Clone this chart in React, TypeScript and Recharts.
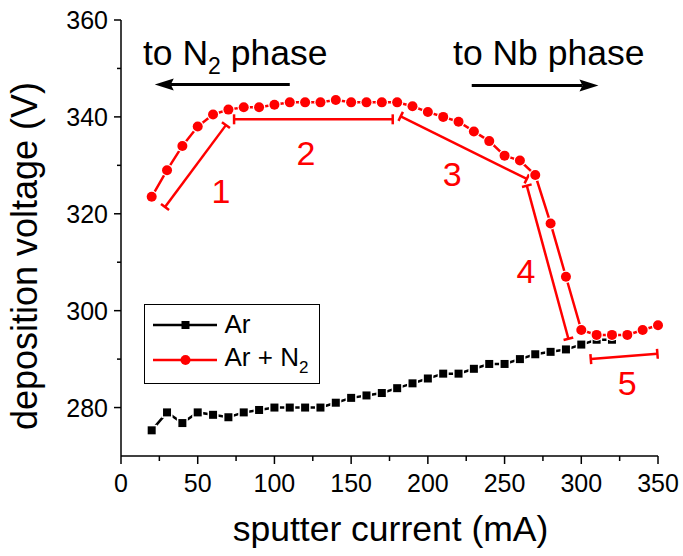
import React from "react";
import { Legend, Line, LineChart, ReferenceDot, ReferenceLine, XAxis, YAxis } from "recharts";

const FONT = "'Liberation Sans', Arial, sans-serif";
const RED = "#ff0000";

// sputter current (mA) and deposition voltage (V)
const arCurrent = [20, 30, 40, 50, 60, 70, 80, 90, 100, 110, 120, 130, 140, 150, 160, 170, 180, 190, 200, 210, 220, 230, 240, 250, 260, 270, 280, 290, 300, 310, 320];
const arVoltage = [275.3, 279, 276.8, 279, 278.5, 278, 279, 279.5, 280, 280, 280, 280, 281, 282, 282.5, 283, 284, 285, 286, 287, 287, 288, 289, 289, 290, 291, 291.5, 292, 293, 294, 294];

const arN2Current = [20, 30, 40, 50, 60, 70, 80, 90, 100, 110, 120, 130, 140, 150, 160, 170, 180, 190, 200, 210, 220, 230, 240, 250, 260, 270, 280, 290, 300, 310, 320, 330, 340, 350];
const arN2Voltage = [323.5, 329, 334, 338, 340.5, 341.5, 342, 342, 342.5, 343, 343, 343, 343.5, 343, 343, 343, 343, 342.2, 341, 340, 339, 337, 335, 332, 331, 328, 318, 307, 296, 295, 295, 295, 296, 297];

const xTicks = [0, 25, 50, 75, 100, 125, 150, 175, 200, 225, 250, 275, 300, 325, 350];
const yTicks = [280, 290, 300, 310, 320, 330, 340, 350, 360];

// regime brackets (data units)
const regionNames = ["1", "2", "3", "4", "5"];
const regionStart = [[28.7, 321.4], [73.7, 339.5], [182.3, 340.1], [264.5, 325.8], [306.2, 290.0]];
const regionEnd = [[68.4, 338.3], [177.1, 339.5], [264.5, 327.2], [291.6, 294.2], [349.6, 291.1]];
const regionLabelAt = [[65.2, 324.7], [120.6, 332.6], [215.8, 328.2], [264, 308.2], [329.9, 285]];

// direction arrows
const arrowFrom = [[110, 346.7], [228.6, 346.5]];
const arrowTo = [[22, 346.7], [311.2, 346.5]];
const phaseTextAt = [[14.3, 350.7], [216.4, 350.7]];

const arRows = arCurrent.map((c, i) => ({ current: c, voltage: arVoltage[i] }));
const arN2Rows = arN2Current.map((c, i) => ({ current: c, voltage: arN2Voltage[i] }));

const squareDot = (p: any) => {
  const { cx, cy, index } = p;
  if (cx == null || cy == null) return <g key={`s${index}`} />;
  return (
    <g key={`s${index}`}>
      <rect x={cx - 5.5} y={cy - 5.5} width={11} height={11} fill="#fff" />
      <rect x={cx - 4} y={cy - 4} width={8} height={8} fill="#000" />
    </g>
  );
};

const circleDot = (p: any) => {
  const { cx, cy, index } = p;
  if (cx == null || cy == null) return <g key={`c${index}`} />;
  return (
    <g key={`c${index}`}>
      <circle cx={cx} cy={cy} r={6.2} fill="#fff" />
      <circle cx={cx} cy={cy} r={5} fill={RED} />
    </g>
  );
};

function BottomTick({ x, y, payload }: any) {
  const v = payload.value;
  const major = v % 50 === 0;
  return (
    <g>
      <line x1={x} x2={x} y1={y} y2={y + (major ? 8 : 5)} stroke="#000" strokeWidth={1.5} />
      {major && (
        <text x={x} y={y + 36} textAnchor="middle" fontSize={25} fontFamily={FONT} fill="#000">
          {v}
        </text>
      )}
    </g>
  );
}

function LeftTick({ x, y, payload }: any) {
  const v = payload.value;
  const major = v % 20 === 0;
  return (
    <g>
      <line x1={x} x2={x - (major ? 7 : 4)} y1={y} y2={y} stroke="#000" strokeWidth={1.5} />
      {major && (
        <text x={x - 13} y={y + 9} textAnchor="end" fontSize={25} fontFamily={FONT} fill="#000">
          {v}
        </text>
      )}
    </g>
  );
}

function TopTick({ x, y, payload }: any) {
  const major = payload.value % 50 === 0;
  return <line x1={x} x2={x} y1={y} y2={y + (major ? 7 : 4)} stroke="#000" strokeWidth={1.5} />;
}

function RightTick({ x, y, payload }: any) {
  const major = payload.value % 20 === 0;
  return <line x1={x} x2={x - (major ? 7 : 4)} y1={y} y2={y} stroke="#000" strokeWidth={1.5} />;
}

function Bracket(p: any) {
  const { x1, y1, x2, y2 } = p;
  const len = Math.hypot(x2 - x1, y2 - y1) || 1;
  const nx = (-(y2 - y1) / len) * 5;
  const ny = ((x2 - x1) / len) * 5;
  return (
    <g stroke={RED} strokeWidth={2.5} fill="none">
      <line x1={x1} y1={y1} x2={x2} y2={y2} />
      <line x1={x1 - nx} y1={y1 - ny} x2={x1 + nx} y2={y1 + ny} />
      <line x1={x2 - nx} y1={y2 - ny} x2={x2 + nx} y2={y2 + ny} />
    </g>
  );
}

function Arrow(p: any) {
  const { x1, y1, x2, y2 } = p;
  const len = Math.hypot(x2 - x1, y2 - y1) || 1;
  const ux = (x2 - x1) / len;
  const uy = (y2 - y1) / len;
  const bx = x2 - ux * 16;
  const by = y2 - uy * 16;
  const half = 6;
  const nx = bx - ux * 3;
  const ny = by - uy * 3;
  return (
    <g>
      <line x1={x1} y1={y1} x2={bx} y2={by} stroke="#000" strokeWidth={3} />
      <polygon
        points={`${x2},${y2} ${nx - uy * half},${ny + ux * half} ${bx},${by} ${nx + uy * half},${ny - ux * half}`}
        fill="#000"
      />
    </g>
  );
}

function RegionLabel(text: string) {
  return (p: any) => (
    <text x={p.cx} y={p.cy} textAnchor="middle" dy={12} fontSize={34} fontFamily={FONT} fill={RED}>
      {text}
    </text>
  );
}

function PhaseText(i: number) {
  return (p: any) => (
    <text x={p.cx} y={p.cy} fontSize={35.5} fontFamily={FONT} fill="#000">
      {i === 0 ? (
        <>
          to N
          <tspan dy={9} fontSize={23}>2</tspan>
          <tspan dy={-9}> phase</tspan>
        </>
      ) : (
        "to Nb phase"
      )}
    </text>
  );
}

function LegendBox({ payload }: any) {
  return (
    <div
      style={{
        width: 176,
        height: 80,
        boxSizing: "border-box",
        border: "1.5px solid #000",
        background: "#fff",
        paddingTop: 2,
        fontFamily: FONT,
      }}
    >
      {(payload || []).map((entry: any) => {
        const isRed = entry.color === RED;
        return (
          <div key={entry.value} style={{ display: "flex", alignItems: "center", height: 35 }}>
            <svg width={64} height={20} style={{ marginLeft: 7.5, flex: "none" }}>
              <line x1={0} y1={10} x2={64} y2={10} stroke={entry.color} strokeWidth={2.5} />
              {isRed ? (
                <circle cx={32.5} cy={10} r={5} fill={RED} />
              ) : (
                <rect x={28.5} y={6} width={8} height={8} fill="#000" />
              )}
            </svg>
            <span style={{ fontSize: 26, marginLeft: 8, color: "#000", whiteSpace: "nowrap" }}>
              {isRed ? (
                <>
                  Ar + N<sub style={{ fontSize: 17, verticalAlign: "-7px" }}>2</sub>
                </>
              ) : (
                entry.value
              )}
            </span>
          </div>
        );
      })}
    </div>
  );
}

export default function App() {
  return (
    <div style={{ position: "absolute", left: 0, top: 0, width: 683, height: 556, background: "#fff" }}>
      <LineChart width={683} height={556} margin={{ top: 20, right: 25, left: 0, bottom: 0 }} style={{ fontFamily: FONT }}>
        <XAxis
          dataKey="current"
          type="number"
          domain={[0, 350]}
          ticks={xTicks}
          interval={0}
          height={100}
          tickSize={0}
          tickMargin={0}
          tickLine={false}
          axisLine={{ stroke: "#000", strokeWidth: 1.5 }}
          tick={<BottomTick />}
          label={{
            content: (props: any) => {
              const vb = props.viewBox || { x: 121, y: 456, width: 537 };
              return (
                <text x={vb.x + vb.width / 2 + 1} y={vb.y + 85} textAnchor="middle" fontSize={35.5} fontFamily={FONT} fill="#000">
                  sputter current (mA)
                </text>
              );
            },
          }}
        />
        <XAxis
          xAxisId="top"
          orientation="top"
          type="number"
          domain={[0, 350]}
          ticks={xTicks}
          interval={0}
          height={0}
          tickSize={0}
          tickMargin={0}
          tickLine={false}
          axisLine={{ stroke: "#000", strokeWidth: 1.5 }}
          tick={<TopTick />}
        />
        <YAxis
          type="number"
          domain={[270, 360]}
          ticks={yTicks}
          interval={0}
          width={121}
          tickSize={0}
          tickMargin={0}
          tickLine={false}
          axisLine={{ stroke: "#000", strokeWidth: 1.5 }}
          tick={<LeftTick />}
          label={{
            content: (props: any) => {
              const vb = props.viewBox || { x: 0, y: 20, height: 436 };
              const cx = vb.x + 37;
              const cy = vb.y + vb.height / 2 + 18;
              return (
                <text x={cx} y={cy} transform={`rotate(-90 ${cx} ${cy})`} textAnchor="middle" fontSize={36} fontFamily={FONT} fill="#000">
                  deposition voltage (V)
                </text>
              );
            },
          }}
        />
        <YAxis
          yAxisId="right"
          orientation="right"
          type="number"
          domain={[270, 360]}
          ticks={yTicks}
          interval={0}
          width={0}
          tickSize={0}
          tickMargin={0}
          tickLine={false}
          axisLine={{ stroke: "#000", strokeWidth: 1.5 }}
          tick={<RightTick />}
        />
        <Legend
          layout="vertical"
          align="center"
          verticalAlign="middle"
          wrapperStyle={{ left: 144, top: 304, width: 176, height: 80 }}
          content={<LegendBox />}
        />
        {regionNames.map((name, i) => (
          <ReferenceLine
            key={`br${name}`}
            segment={[
              { x: regionStart[i][0], y: regionStart[i][1] },
              { x: regionEnd[i][0], y: regionEnd[i][1] },
            ]}
            shape={Bracket}
          />
        ))}
        {regionNames.map((name, i) => (
          <ReferenceDot key={`lb${name}`} x={regionLabelAt[i][0]} y={regionLabelAt[i][1]} r={0} shape={RegionLabel(name)} />
        ))}
        {arrowFrom.map((from, i) => (
          <ReferenceLine
            key={`ar${i}`}
            segment={[
              { x: from[0], y: from[1] },
              { x: arrowTo[i][0], y: arrowTo[i][1] },
            ]}
            shape={Arrow}
          />
        ))}
        {phaseTextAt.map((pos, i) => (
          <ReferenceDot key={`ph${i}`} x={pos[0]} y={pos[1]} r={0} shape={PhaseText(i)} />
        ))}
        <Line
          data={arRows}
          dataKey="voltage"
          name="Ar"
          stroke="#000"
          strokeWidth={2.5}
          dot={squareDot}
          activeDot={false}
          isAnimationActive={false}
        />
        <Line
          data={arN2Rows}
          dataKey="voltage"
          name="Ar + N2"
          stroke={RED}
          strokeWidth={2.5}
          dot={circleDot}
          activeDot={false}
          isAnimationActive={false}
        />
      </LineChart>
    </div>
  );
}
